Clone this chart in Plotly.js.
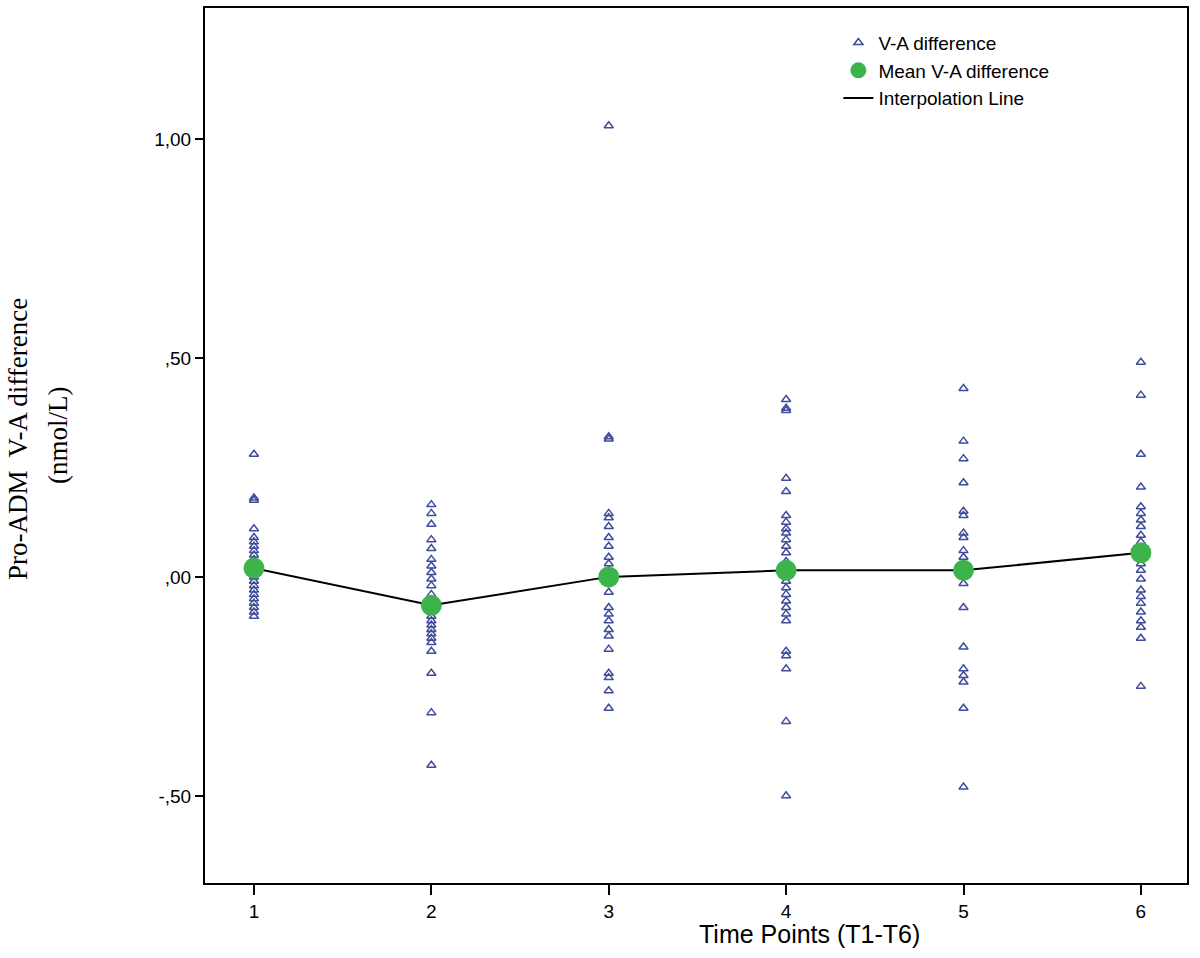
<!DOCTYPE html>
<html>
<head>
<meta charset="utf-8">
<script src="https://cdn.plot.ly/plotly-3.0.1.min.js"></script>
<style>html,body{margin:0;padding:0;background:#fff;}#chart{width:1200px;height:958px;}</style>
</head>
<body>
<div id="chart"></div>
<script>
// Time points
const timePoints = [1, 2, 3, 4, 5, 6];
// Individual V-A differences per time point (nmol/L)
const t1 = [0.28, 0.18, 0.175, 0.11, 0.09, 0.08, 0.07, 0.06, 0.05, 0.04, 0.03, 0.02, 0.01, 0.00, -0.01, -0.02, -0.03, -0.04, -0.05, -0.06, -0.07, -0.08, -0.09];
const t2 = [0.165, 0.145, 0.12, 0.085, 0.065, 0.04, 0.025, 0.01, -0.005, -0.02, -0.04, -0.06, -0.07, -0.08, -0.09, -0.10, -0.11, -0.12, -0.13, -0.14, -0.15, -0.17, -0.22, -0.31, -0.43];
const t3 = [1.03, 0.32, 0.315, 0.145, 0.135, 0.115, 0.09, 0.07, 0.045, 0.03, 0.015, -0.01, -0.035, -0.07, -0.085, -0.10, -0.12, -0.135, -0.165, -0.22, -0.23, -0.26, -0.30];
const t4 = [0.405, 0.385, 0.38, 0.225, 0.195, 0.14, 0.125, 0.11, 0.10, 0.085, 0.07, 0.055, 0.035, 0.015, -0.01, -0.025, -0.04, -0.055, -0.07, -0.085, -0.10, -0.17, -0.18, -0.21, -0.33, -0.50];
const t5 = [0.43, 0.31, 0.27, 0.215, 0.15, 0.14, 0.10, 0.09, 0.06, 0.045, 0.03, 0.015, -0.015, -0.07, -0.16, -0.21, -0.225, -0.24, -0.30, -0.48];
const t6 = [0.49, 0.415, 0.28, 0.205, 0.16, 0.145, 0.13, 0.115, 0.095, 0.08, 0.06, 0.045, 0.03, 0.015, -0.005, -0.03, -0.045, -0.06, -0.08, -0.10, -0.115, -0.14, -0.25];
// Mean V-A difference per time point
const means = [0.02, -0.065, 0.0, 0.015, 0.015, 0.055];
// Tick labels
const yTickVals = [-0.5, 0, 0.5, 1.0];
const yTickText = ['-,50', ',00', ',50', '1,00'];
const xTickText = ['1', '2', '3', '4', '5', '6'];

const groups = [t1, t2, t3, t4, t5, t6];
const xs = [], ys = [];
groups.forEach((g, i) => g.forEach(v => { xs.push(timePoints[i]); ys.push(v); }));

const traces = [
  {
    x: xs, y: ys, type: 'scatter', mode: 'markers', name: 'V-A difference',
    marker: {symbol: 'triangle-up-open', size: 8, color: '#3f4c9c', line: {width: 1.5, color: '#3f4c9c'}}
  },
  {
    x: timePoints, y: means, type: 'scatter', mode: 'lines', name: 'Interpolation Line',
    line: {color: '#000000', width: 2}, showlegend: false
  },
  {
    x: timePoints, y: means, type: 'scatter', mode: 'markers', name: 'Mean V-A difference',
    marker: {symbol: 'circle', size: 21, color: '#3cb44b'}
  },
  {
    x: [null], y: [null], type: 'scatter', mode: 'lines', name: 'Interpolation Line',
    line: {color: '#000000', width: 2}
  }
];

const layout = {
  width: 1200, height: 958,
  margin: {l: 205, r: 13, t: 8, b: 75},
  paper_bgcolor: '#ffffff', plot_bgcolor: '#ffffff',
  showlegend: true,
  legend: {x: 0.645, y: 0.982, xanchor: 'left', yanchor: 'top', bgcolor: 'rgba(0,0,0,0)',
           font: {family: 'Liberation Sans, Arial, sans-serif', size: 19, color: '#000'},
           tracegroupgap: 0, itemsizing: 'trace'},
  xaxis: {
    range: [0.724, 6.26], tickvals: timePoints, ticktext: xTickText,
    showgrid: false, zeroline: false, showline: true, mirror: true,
    linecolor: '#000', linewidth: 2, ticks: 'outside', ticklen: 10, tickwidth: 2, tickcolor: '#000',
    tickfont: {family: 'Liberation Sans, Arial, sans-serif', size: 19, color: '#000'}
  },
  yaxis: {
    range: [-0.699, 1.299], tickvals: yTickVals, ticktext: yTickText,
    showgrid: false, zeroline: false, showline: true, mirror: true,
    linecolor: '#000', linewidth: 2, ticks: 'outside', ticklen: 8, tickwidth: 2, tickcolor: '#000',
    tickfont: {family: 'Liberation Sans, Arial, sans-serif', size: 19, color: '#000'}
  },
  annotations: [
    {text: 'Time Points (T1-T6)', xref: 'paper', yref: 'paper', x: 0.616, y: -0.0583,
     xanchor: 'center', yanchor: 'middle', showarrow: false,
     font: {family: 'Liberation Sans, Arial, sans-serif', size: 25, color: '#000'}},
    {text: 'Pro-ADM  V-A difference', xref: 'paper', yref: 'paper', x: -0.1904, y: 0.5074,
     xanchor: 'center', yanchor: 'middle', showarrow: false, textangle: -90,
     font: {family: 'Liberation Serif, Times New Roman, serif', size: 27, color: '#000'}},
    {text: '(nmol/L)', xref: 'paper', yref: 'paper', x: -0.1497, y: 0.512,
     xanchor: 'center', yanchor: 'middle', showarrow: false, textangle: -90,
     font: {family: 'Liberation Serif, Times New Roman, serif', size: 27, color: '#000'}}
  ]
};

Plotly.newPlot('chart', traces, layout, {displayModeBar: false, staticPlot: true});
</script>
</body>
</html>
